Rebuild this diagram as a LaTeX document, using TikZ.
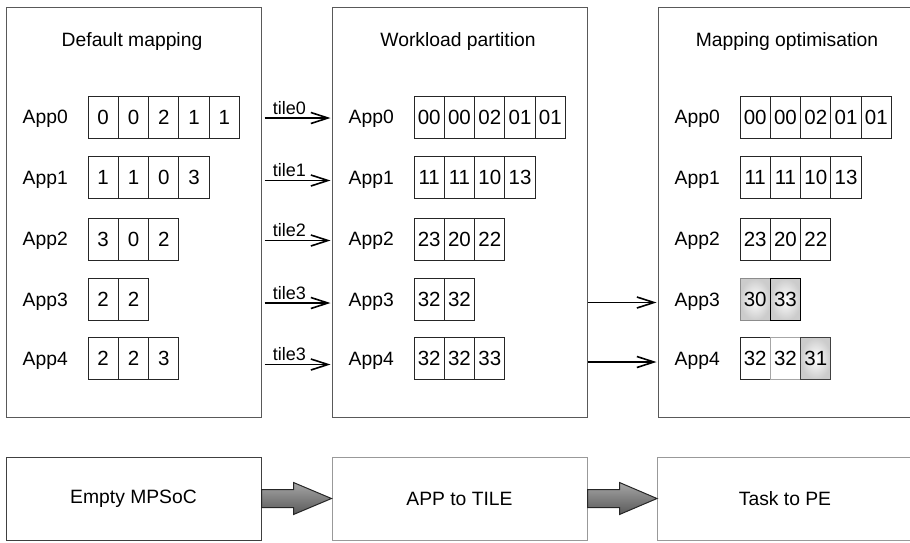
\documentclass[tikz,border=0pt]{standalone}
\usepackage{fontspec}
\setmainfont{Liberation Sans}
\usetikzlibrary{arrows.meta,calc,positioning}
\newcommand\bigtxt{\fontsize{19.3}{22}\selectfont}
\newcommand\celltxt{\fontsize{20.5}{23}\selectfont}
\newcommand\smalltxt{\fontsize{18}{20}\selectfont}
% one row of task cells: name, x of first cell, y, values
\newcommand\cellrow[4]{\foreach \v [count=\k] in {#4} {\node[cell] (#1-\k) at ({#2+15.15+(\k-1)*30.3},#3) {\v};}}

\tikzset{
  panel/.style={draw=black!65, line width=1pt, inner sep=0, minimum width=255, minimum height=410},
  stage/.style={draw=black!40, line width=1pt, inner sep=0, minimum width=255, minimum height=83, font=\bigtxt},
  title/.style={font=\bigtxt},
  applabel/.style={anchor=east, inner sep=0, yshift=-2pt, font=\bigtxt},
  cell/.style={draw=black!85, line width=0.9pt, inner sep=0, outer sep=0, minimum width=30.3, minimum height=42, font=\celltxt},
  hot/.style={cell, draw=black, inner color=white, outer color=black!20},
  tilearrow/.style={-{Straight Barb[length=17pt,width=11pt]}, line width=1.6pt, shorten <=3pt, shorten >=1pt},
  tilelabel/.style={above=3pt, inner sep=0, font=\smalltxt},
  fat/.style={draw=black!85, line width=1pt, top color=black!35, bottom color=black!65}
}

\begin{document}
\begin{tikzpicture}[x=1pt, y=-1pt]
		%%%%% START %%%%%
		\useasboundingbox (0,0) rectangle (910,542);
		
		\node[panel] (default) at (133.5,212) {};
		\node[panel] (work) at (459.5,212) {};
		\node[panel, minimum width=260] (optim) at (788,212) {};
		
		\node[title] (defaultTitle) at (132,42) {Default mapping};
		\node[title] (workTitle) at (458,42) {Workload partition};
		\node[title] (optimTitle) at (787,42) {Mapping optimisation};
		
		% default mapping
		\node[applabel] (d0) at (68,117) {App0};
		\node[applabel] (d1) at (68,177.5) {App1};
		\node[applabel] (d2) at (68,238.5) {App2};
		\node[applabel] (d3) at (68,299.5) {App3};
		\node[applabel] (d4) at (68,358.5) {App4};
		\cellrow{dc0}{88}{117}{0,0,2,1,1}
		\cellrow{dc1}{88}{177.5}{1,1,0,3}
		\cellrow{dc2}{88}{239.5}{3,0,2}
		\cellrow{dc3}{88}{299.5}{2,2}
		\cellrow{dc4}{88}{358.5}{2,2,3}
		
		% workload partition
		\node[applabel] (w0) at (394,117) {App0};
		\node[applabel] (w1) at (394,177.5) {App1};
		\node[applabel] (w2) at (394,238.5) {App2};
		\node[applabel] (w3) at (394,299.5) {App3};
		\node[applabel] (w4) at (394,358.5) {App4};
		\cellrow{wc0}{414}{117}{00,00,02,01,01}
		\cellrow{wc1}{414}{177.5}{11,11,10,13}
		\cellrow{wc2}{414}{239.5}{23,20,22}
		\cellrow{wc3}{414}{299.5}{32,32}
		\cellrow{wc4}{414}{358.5}{32,32,33}
		
		% mapping optimisation
		\node[applabel] (m0) at (720,117) {App0};
		\node[applabel] (m1) at (720,177.5) {App1};
		\node[applabel] (m2) at (720,238.5) {App2};
		\node[applabel] (m3) at (720,299.5) {App3};
		\node[applabel] (m4) at (720,358.5) {App4};
		\cellrow{mc0}{740}{117}{00,00,02,01,01}
		\cellrow{mc1}{740}{177.5}{11,11,10,13}
		\cellrow{mc2}{740}{239.5}{23,20,22}
		\node[hot, draw=black!45] (mc3-1) at (755.15,299.5) {30};
		\node[hot] (mc3-2) at (785.45,299.5) {33};
		\node[cell] (mc4-1) at (755.15,358.5) {32};
		\node[cell, draw=black!35] (mc4-2) at (785.45,358.5) {32};
		\node[hot, draw=black!75] (mc4-3) at (815.75,358.5) {31};
		
		% tile arrows
		\coordinate (t0) at (0,118);
		\coordinate (t1) at (0,180.5);
		\coordinate (t2) at (0,240.5);
		\coordinate (t3) at (0,303);
		\coordinate (t4) at (0,364.5);
		\draw[tilearrow] (default.east |- t0) -- (work.west |- t0) node[tilelabel, pos=0.4] {tile0};
		\draw[tilearrow] (default.east |- t1) -- (work.west |- t1) node[tilelabel, pos=0.4] {tile1};
		\draw[tilearrow] (default.east |- t2) -- (work.west |- t2) node[tilelabel, pos=0.4] {tile2};
		\draw[tilearrow] (default.east |- t3) -- (work.west |- t3) node[tilelabel, pos=0.4] {tile3};
		\draw[tilearrow] (default.east |- t4) -- (work.west |- t4) node[tilelabel, pos=0.4] {tile3};
		
		\coordinate (o3) at (0,302.5);
		\coordinate (o4) at (0,362);
		\draw[tilearrow, shorten <=0pt] (work.east |- o3) -- (optim.west |- o3);
		\draw[tilearrow, shorten <=0pt] (work.east |- o4) -- (optim.west |- o4);
		
		% flow of stages
		\node[stage, draw=black!75] (empty) at (133.5,498.5) {Empty MPSoC};
		\node[stage] (app2tile) at (459.5,498.5) {APP to TILE};
		\node[stage] (task2pe) at (785,498.5) {Task to PE};
		
		\draw[fat] ($(empty.east)+(0,-9)$) -- ++(32,0) -- ++(0,-7) -- (app2tile.west) -- ($(empty.east)+(32,16)$) -- ++(0,-7) -- ++(-32,0) -- cycle;
		\draw[fat] ($(app2tile.east)+(0,-9)$) -- ++(32,0) -- ++(0,-7) -- (task2pe.west) -- ($(app2tile.east)+(32,16)$) -- ++(0,-7) -- ++(-32,0) -- cycle;
		
		%%%%% END %%%%%
	\end{tikzpicture}
\end{document}
